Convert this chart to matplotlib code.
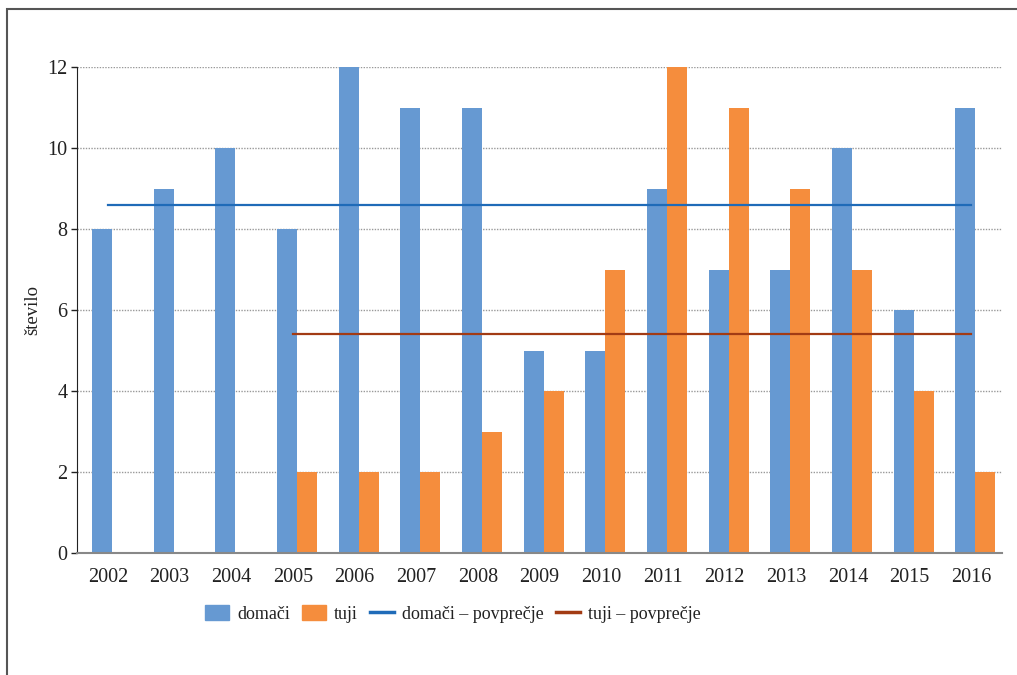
import numpy as np
import matplotlib
matplotlib.use('Agg')
import matplotlib.pyplot as plt
from matplotlib.patches import Rectangle, Patch
from matplotlib.lines import Line2D

plt.rcParams['font.family'] = ['Liberation Serif', 'DejaVu Serif']

# data
years = ['2002', '2003', '2004', '2005', '2006', '2007', '2008', '2009',
         '2010', '2011', '2012', '2013', '2014', '2015', '2016']
domaci = [8, 9, 10, 8, 12, 11, 11, 5, 5, 9, 7, 7, 10, 6, 11]
tuji = [0, 0, 0, 2, 2, 2, 3, 4, 7, 12, 11, 9, 7, 4, 2]
tuji_start = 3  # tuji average starts in 2005

blue = '#6699d2'
orange = '#f58d3d'
blue_avg = '#1f6bb8'
red_avg = '#a23b14'

fig = plt.figure(figsize=(10.17, 6.75), dpi=100)
ax = fig.add_axes([0.0757, 0.1807, 0.9096, 0.72])

x = np.arange(len(years))
w = 0.324
ax.bar(x - 0.094, domaci, width=w, color=blue, label='domači')
ax.bar(x + 0.23, tuji, width=w, color=orange, label='tuji')

# averages
dom_avg = np.mean(domaci)
tuj_avg = np.mean(tuji[tuji_start:])
ax.plot([x[0], x[-1]], [dom_avg, dom_avg], color=blue_avg, lw=1.6)
ax.plot([x[tuji_start], x[-1]], [tuj_avg, tuj_avg], color=red_avg, lw=1.6)

ax.set_xlim(-0.5, len(years) - 0.5)
ax.set_ylim(0, 12)
ax.set_yticks(range(0, 13, 2))
ax.set_xticks(x)
ax.set_xticklabels(years)
ax.tick_params(axis='x', length=0, labelsize=14.5, pad=11, colors='#222222')
ax.tick_params(axis='y', length=4, width=1, labelsize=14.5, pad=3, colors='#222222')

ax.grid(axis='y', linestyle=(0, (1, 1)), color='#999999', lw=1)
ax.set_axisbelow(True)
for s in ['top', 'right']:
    ax.spines[s].set_visible(False)
ax.spines['left'].set_color('#222222')
ax.spines['bottom'].set_color('#888888')
ax.spines['bottom'].set_linewidth(1.5)

ax.set_ylabel('število', fontsize=13.5, color='#222222', labelpad=4)

# legend
handles = [Patch(color=blue), Patch(color=orange),
           Line2D([], [], color=blue_avg, lw=2.5), Line2D([], [], color=red_avg, lw=2.5)]
labels = ['domači', 'tuji', 'domači – povprečje', 'tuji – povprečje']
fig.legend(handles, labels, loc='center', bbox_to_anchor=(0.4455, 0.091), ncol=4,
           frameon=False, fontsize=13, handlelength=1.3, handleheight=0.95,
           handletextpad=0.45, columnspacing=0.7, labelcolor='#222222')

# frame around the figure
fig.patches.append(Rectangle((7 / 1017, -0.1), 1.2, 1 - 8.5 / 675 + 0.1,
                             transform=fig.transFigure, fill=False,
                             edgecolor='#555555', lw=1.5))

fig.savefig('out.png', dpi=100)
